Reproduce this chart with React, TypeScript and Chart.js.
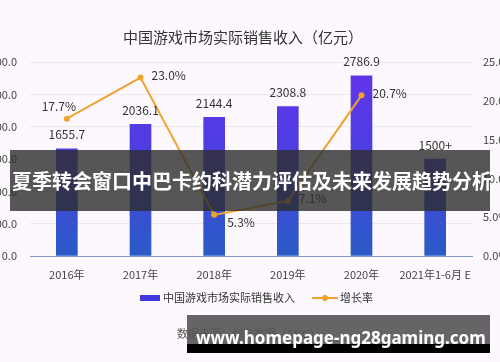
import React, { useEffect, useRef } from "react";
import { Chart, registerables } from "chart.js";

Chart.register(...registerables);

const categories = ["2016年", "2017年", "2018年", "2019年", "2020年", "2021年1-6月 E"];
const revenue = [1655.7, 2036.1, 2144.4, 2308.8, 2786.9, 1500];
const revenueLabels = ["1655.7", "2036.1", "2144.4", "2308.8", "2786.9", "1500+"];
const growth = [17.7, 23.0, 5.3, 7.1, 20.7, null];
const growthLabelSide = ["top", "right", "below-right", "right", "right", "right"];
const leftTicks = [0, 500, 1000, 1500, 2000, 2500, 3000];
const rightTicks = [0, 5, 10, 15, 20, 25];

const titleText = "中国游戏市场实际销售收入（亿元）";
const seriesNames = ["中国游戏市场实际销售收入", "增长率"];
const sourceText = "数据来源：伽马数据（CNG）";
const bannerText = "夏季转会窗口中巴卡约科潜力评估及未来发展趋势分析";
const urlText = "www.homepage-ng28gaming.com";

const FONT = "'Noto Sans CJK SC', 'Noto Sans', sans-serif";
const ORANGE = "#f0a22e";

const labelPlugin = {
  id: "labelPlugin",
  afterDatasetsDraw(chart: any) {
    const ctx = chart.ctx;
    ctx.save();
    ctx.fillStyle = "#333";
    ctx.font = `12px ${FONT}`;
    ctx.textAlign = "center";
    ctx.textBaseline = "middle";
    const barMeta = chart.getDatasetMeta(0);
    barMeta.data.forEach((bar: any, i: number) => {
      ctx.fillText(revenueLabels[i], bar.x, bar.y - 14);
    });
    const lineMeta = chart.getDatasetMeta(1);
    lineMeta.data.forEach((pt: any, i: number) => {
      const v = growth[i];
      if (v == null) return;
      const txt = v.toFixed(1) + "%";
      const side = growthLabelSide[i];
      if (side === "top") {
        ctx.textAlign = "center";
        ctx.fillText(txt, pt.x - 8, pt.y - 12);
      } else if (side === "below-right") {
        ctx.textAlign = "left";
        ctx.fillText(txt, pt.x + 13, pt.y + 8);
      } else {
        ctx.textAlign = "left";
        ctx.fillText(txt, pt.x + 11, pt.y - 2);
      }
    });
    ctx.restore();
  },
  afterDraw(chart: any) {
    const ctx = chart.ctx;
    ctx.save();
    ctx.fillStyle = "#333";
    ctx.font = `15px ${FONT}`;
    ctx.textAlign = "center";
    ctx.textBaseline = "middle";
    ctx.fillText(titleText, 243, 37);

    // legend
    const ly = 298;
    ctx.fillStyle = "#4438e0";
    ctx.fillRect(140, ly - 3, 20, 6);
    ctx.fillStyle = "#333";
    ctx.font = `11px ${FONT}`;
    ctx.textAlign = "left";
    ctx.fillText(seriesNames[0], 163, ly);
    ctx.strokeStyle = ORANGE;
    ctx.lineWidth = 2;
    ctx.beginPath();
    ctx.moveTo(312, ly);
    ctx.lineTo(338, ly);
    ctx.stroke();
    ctx.fillStyle = ORANGE;
    ctx.beginPath();
    ctx.arc(325, ly, 3, 0, Math.PI * 2);
    ctx.fill();
    ctx.fillStyle = "#333";
    ctx.fillText(seriesNames[1], 340, ly);

    ctx.fillStyle = "#555";
    ctx.font = `11px ${FONT}`;
    ctx.fillText(sourceText, 177, 334);
    ctx.restore();
  },
};

export default function App() {
  const ref = useRef<HTMLCanvasElement | null>(null);
  useEffect(() => {
    if (!ref.current) return;
    const chart = new Chart(ref.current, {
      type: "bar",
      data: {
        labels: categories,
        datasets: [
          {
            type: "bar",
            label: seriesNames[0],
            data: revenue,
            yAxisID: "y",
            order: 1,
            barThickness: 21,
            backgroundColor: (c: any) => {
              const area = c.chart.chartArea;
              if (!area) return "#4438e0";
              const g = c.chart.ctx.createLinearGradient(0, area.top, 0, area.bottom);
              g.addColorStop(0, "#6533ea");
              g.addColorStop(0.5, "#4a3fe0");
              g.addColorStop(1, "#2a5cc6");
              return g;
            },
          },
          {
            type: "line",
            label: seriesNames[1],
            data: growth,
            yAxisID: "y1",
            order: 0,
            borderColor: ORANGE,
            backgroundColor: ORANGE,
            borderWidth: 2,
            pointRadius: 3,
            pointBackgroundColor: ORANGE,
            pointBorderWidth: 0,
            tension: 0,
          },
        ],
      } as any,
      options: {
        animation: false,
        responsive: false,
        layout: { padding: { top: 62, bottom: 81, left: 0, right: 0 } },
        plugins: {
          legend: { display: false },
          tooltip: { enabled: false },
          title: { display: false },
        },
        scales: {
          x: {
            grid: { display: false, drawTicks: false },
            border: { display: true, color: "#7f9cc0", width: 1 },
            afterFit: (s: any) => {
              s.height = 25;
            },
            ticks: {
              color: "#444",
              font: { size: 11, family: FONT },
              padding: 12,
              maxRotation: 0,
              minRotation: 0,
              autoSkip: false,
            },
          },
          y: {
            position: "left",
            min: 0,
            max: 3000,
            afterBuildTicks: (s: any) => {
              s.ticks = leftTicks.map((v) => ({ value: v }));
            },
            afterFit: (s: any) => {
              s.width = 30;
            },
            grid: { color: "#ebe8f0", drawTicks: false },
            border: { display: false },
            ticks: {
              color: "#444",
              font: { size: 11, family: FONT },
              padding: 13,
              callback: (v: any) => Number(v).toFixed(1),
            },
          },
          y1: {
            position: "right",
            min: 0,
            max: 25,
            afterBuildTicks: (s: any) => {
              s.ticks = rightTicks.map((v) => ({ value: v }));
            },
            afterFit: (s: any) => {
              s.width = 28;
            },
            grid: { display: false, drawTicks: false },
            border: { display: false },
            ticks: {
              color: "#444",
              font: { size: 11, family: FONT },
              padding: 11,
              callback: (v: any) => Number(v).toFixed(1) + "%",
            },
          },
        },
      } as any,
      plugins: [labelPlugin],
    });
    return () => chart.destroy();
  }, []);

  return (
    <div
      style={{
        position: "fixed",
        left: 0,
        top: 0,
        width: 500,
        height: 362,
        background: "#fdf8fd",
        overflow: "hidden",
      }}
    >
      <canvas ref={ref} width={500} height={362} style={{ display: "block", width: 500, height: 362 }} />
      <div
        style={{
          position: "absolute",
          left: 10,
          top: 150,
          width: 480,
          height: 61,
          background: "rgba(45,45,45,0.8)",
          color: "#fff",
          fontFamily: FONT,
          fontWeight: 700,
          fontSize: 20,
          lineHeight: "61px",
          paddingLeft: 2,
          boxSizing: "border-box",
          whiteSpace: "nowrap",
        }}
      >
        {bannerText}
      </div>
      <div
        style={{
          position: "absolute",
          left: 187,
          top: 315,
          width: 303,
          height: 29,
          background: "rgba(85,83,85,0.9)",
        }}
      />
      <div
        style={{
          position: "absolute",
          left: 187,
          top: 344,
          width: 303,
          height: 9,
          background: "#000",
        }}
      />
      <div
        style={{
          position: "absolute",
          left: 196,
          top: 326,
          height: 24,
          lineHeight: "24px",
          color: "#fff",
          fontFamily: "'Noto Sans', sans-serif",
          fontWeight: 700,
          fontSize: 17,
          whiteSpace: "nowrap",
        }}
      >
        {urlText}
      </div>
    </div>
  );
}
